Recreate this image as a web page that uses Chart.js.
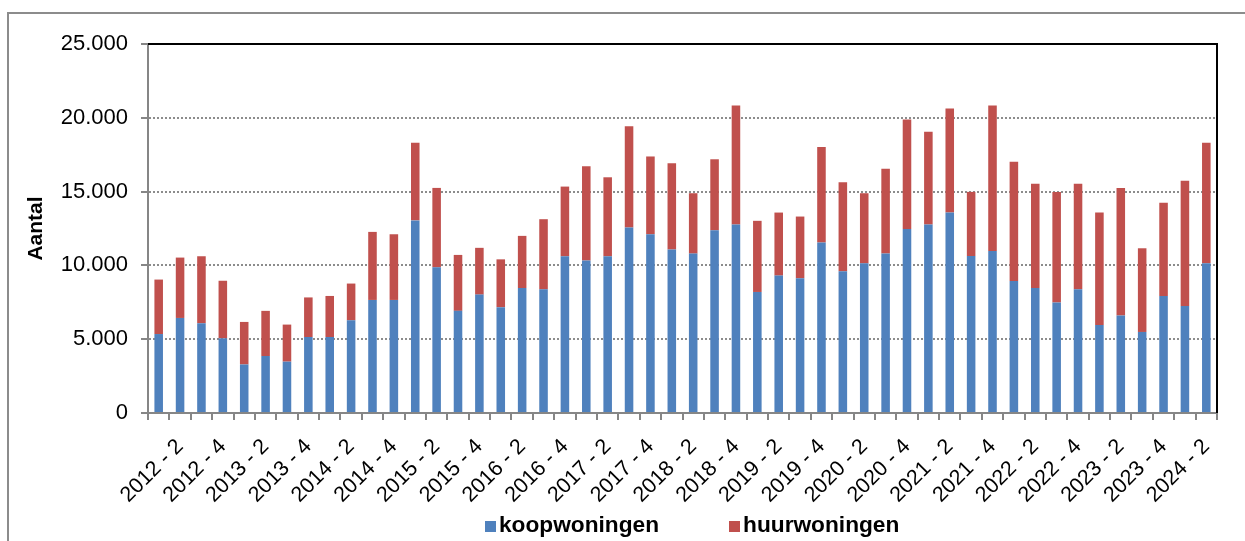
<!DOCTYPE html>
<html lang="nl">
<head>
    <meta charset="UTF-8">
    <title>Aantal woningen per kwartaal</title>
    <script src="https://cdn.jsdelivr.net/npm/chart.js"></script>
    <style>
        html, body { margin: 0; padding: 0; background: #fff; }
        #wrap { position: relative; width: 1245px; height: 541px; }
        #frame { position: absolute; left: 7px; top: 12px; right: 0; bottom: 0;
                 border-left: 2px solid #8c8c8c; border-top: 2px solid #8c8c8c; pointer-events: none; }
        #legend { position: absolute; left: 485px; top: 512px; display: flex; gap: 70px;
                  font: bold 22.7px 'Liberation Sans', Arial, sans-serif; line-height: 24px; color: #000; }
        #legend span.box { display: inline-block; width: 11px; height: 11px; margin-right: 3px; }
    </style>
</head>
<body>
<div id="wrap">
    <canvas id="myChart" width="1245" height="541"></canvas>
    <div id="frame"></div>
    <div id="legend"></div>
</div>

<script>
    // Kwartalen 2012-1 t/m 2024-2
    const years = [2012, 2013, 2014, 2015, 2016, 2017, 2018, 2019, 2020, 2021, 2022, 2023, 2024];
    const quarters = [1, 2, 3, 4];
    const labels = [];
    years.forEach(y => quarters.forEach(q => {
        if (y < 2024 || q <= 2) labels.push(y + ' - ' + q);
    }));

    // koopwoningen (blauw)
    const koop = [5350, 6440, 6080, 5060, 3290, 3860, 3480, 5150, 5150, 6280,
                  7660, 7660, 13050, 9870, 6920, 8020, 7170, 8470, 8380, 10620,
                  10330, 10620, 12560, 12110, 11070, 10800, 12380, 12770, 8200, 9310,
                  9130, 11550, 9600, 10140, 10800, 12470, 12770, 13580, 10630, 10980,
                  8950, 8470, 7480, 8380, 5970, 6600, 5490, 7930, 7250, 10140];

    // huurwoningen (rood)
    const huur = [3690, 4090, 4540, 3900, 2880, 3060, 2510, 2680, 2780, 2490,
                  4610, 4450, 5260, 5380, 3790, 3170, 3240, 3530, 4750, 4720,
                  6390, 5350, 6870, 5270, 5850, 4090, 4810, 8060, 4820, 4270,
                  4180, 6480, 6030, 4750, 5740, 7420, 6280, 7050, 4350, 9850,
                  8070, 7060, 7500, 7150, 7610, 8650, 5670, 6310, 8480, 8170];

    const yTicks = [0, 5000, 10000, 15000, 20000, 25000];

    const font = "'Liberation Sans', Arial, sans-serif";

    // 25000 -> "25.000"
    function fmt(v) {
        return String(v).replace(/\B(?=(\d{3})+(?!\d))/g, '.');
    }

    // zwarte rand boven en rechts van het plotgebied
    const plotFrame = {
        id: 'plotFrame',
        afterDraw(chart) {
            const { ctx, chartArea: a } = chart;
            ctx.save();
            ctx.strokeStyle = '#000';
            ctx.lineWidth = 2;
            ctx.beginPath();
            ctx.moveTo(a.left, a.top);
            ctx.lineTo(a.right, a.top);
            ctx.lineTo(a.right, a.bottom);
            ctx.stroke();
            ctx.restore();
        }
    };

    // legenda als html, opgebouwd uit de datasets
    const htmlLegend = {
        id: 'htmlLegend',
        afterUpdate(chart) {
            const box = document.getElementById('legend');
            box.innerHTML = '';
            chart.data.datasets.forEach(ds => {
                const item = document.createElement('div');
                const sq = document.createElement('span');
                sq.className = 'box';
                sq.style.background = ds.backgroundColor;
                item.appendChild(sq);
                item.appendChild(document.createTextNode(ds.label));
                box.appendChild(item);
            });
        }
    };

    const ctx = document.getElementById('myChart').getContext('2d');
    new Chart(ctx, {
        type: 'bar',
        data: {
            labels: labels,
            datasets: [
                { label: 'koopwoningen', data: koop, backgroundColor: '#4F81BD',
                  barPercentage: 0.4, categoryPercentage: 1.0 },
                { label: 'huurwoningen', data: huur, backgroundColor: '#C0504D',
                  barPercentage: 0.4, categoryPercentage: 1.0 }
            ]
        },
        options: {
            responsive: false,
            animation: false,
            layout: { padding: { left: 0, right: 28, top: 44, bottom: 0 } },
            scales: {
                x: {
                    stacked: true,
                    grid: { display: true, drawOnChartArea: false, offset: true,
                            tickLength: 7, color: '#868686', lineWidth: 2 },
                    border: { display: true, color: '#868686', width: 2 },
                    ticks: {
                        autoSkip: false, maxRotation: 45, minRotation: 45, padding: 14,
                        color: '#000', font: { family: font, size: 21.5 },
                        callback: (v, i) => (i % 2 === 1 ? labels[i] : '')
                    },
                    afterFit: s => { s.height = 128; s.paddingLeft = 0; s.paddingRight = 0; }
                },
                y: {
                    stacked: true,
                    min: 0,
                    max: 25000,
                    afterBuildTicks: s => { s.ticks = yTicks.map(v => ({ value: v })); },
                    ticks: { padding: 13, color: '#000', font: { family: font, size: 22 },
                             callback: v => fmt(v) },
                    grid: { color: '#8c8c8c', lineWidth: 2, tickLength: 7,
                            tickColor: '#868686', tickWidth: 2 },
                    border: { display: true, color: '#868686', width: 2, dash: [2, 2] },
                    title: { display: true, text: 'Aantal', color: '#000',
                             font: { family: font, size: 21, weight: 'bold' },
                             padding: { top: 24, bottom: 0 } },
                    afterFit: s => { s.width = 148; s.paddingTop = 0; s.paddingBottom = 0; }
                }
            },
            plugins: {
                legend: { display: false },
                tooltip: { enabled: false }
            }
        },
        plugins: [plotFrame, htmlLegend]
    });
</script>
</body>
</html>
